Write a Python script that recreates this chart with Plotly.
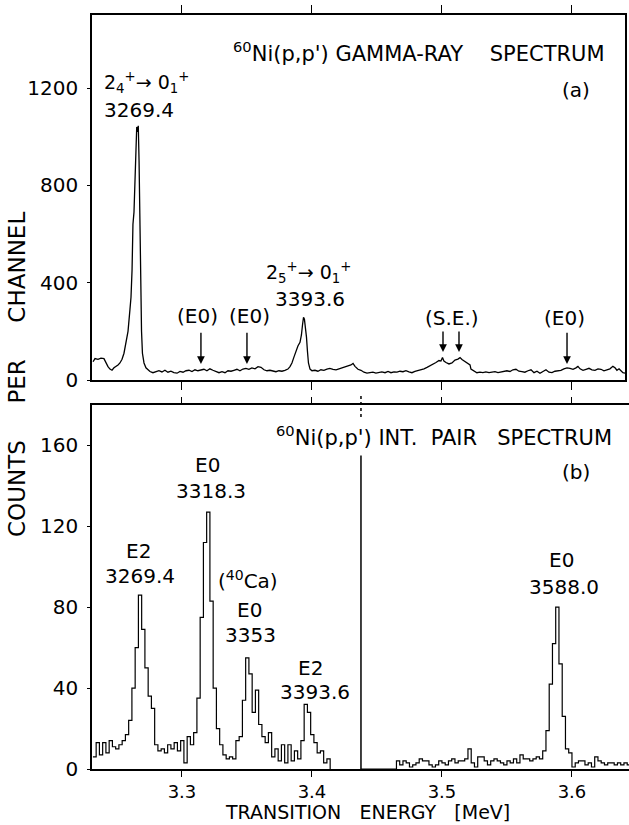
import plotly.graph_objects as go

# ---------------- data ----------------
# (a) gamma-ray spectrum: energy [MeV] and counts per channel
GAMMA_E = [
    3.2316, 3.2331, 3.2354, 3.2377, 3.2400, 3.2416, 3.2431, 3.2446, 3.2462, 3.2477,
    3.2493, 3.2508, 3.2523, 3.2539, 3.2554, 3.2570, 3.2585, 3.2600, 3.2608, 3.2616,
    3.2623, 3.2631, 3.2639, 3.2646, 3.2652, 3.2658, 3.2664, 3.2670, 3.2675, 3.2681,
    3.2689, 3.2696, 3.2708, 3.2723, 3.2739, 3.2754, 3.2777, 3.2800, 3.2823, 3.2846,
    3.2869, 3.2892, 3.2915, 3.2938, 3.2962, 3.2985, 3.3008, 3.3031, 3.3054, 3.3077,
    3.3100, 3.3123, 3.3146, 3.3169, 3.3192, 3.3215, 3.3238, 3.3262, 3.3285, 3.3308,
    3.3331, 3.3354, 3.3377, 3.3400, 3.3423, 3.3446, 3.3469, 3.3492, 3.3515, 3.3538,
    3.3562, 3.3585, 3.3608, 3.3631, 3.3654, 3.3677, 3.3700, 3.3723, 3.3746, 3.3769,
    3.3792, 3.3815, 3.3831, 3.3846, 3.3862, 3.3877, 3.3892, 3.3908, 3.3919, 3.3927,
    3.3935, 3.3942, 3.3950, 3.3958, 3.3965, 3.3973, 3.3985, 3.4000, 3.4023, 3.4046,
    3.4069, 3.4092, 3.4115, 3.4138, 3.4162, 3.4185, 3.4208, 3.4231, 3.4254, 3.4277,
    3.4300, 3.4316, 3.4331, 3.4354, 3.4377, 3.4400, 3.4423, 3.4446, 3.4469, 3.4492,
    3.4515, 3.4538, 3.4562, 3.4585, 3.4608, 3.4631, 3.4654, 3.4677, 3.4700, 3.4723,
    3.4746, 3.4769, 3.4792, 3.4815, 3.4838, 3.4862, 3.4885, 3.4908, 3.4931, 3.4954,
    3.4977, 3.4992, 3.5004, 3.5015, 3.5031, 3.5054, 3.5077, 3.5100, 3.5123, 3.5139,
    3.5154, 3.5177, 3.5200, 3.5216, 3.5223, 3.5246, 3.5269, 3.5292, 3.5315, 3.5338,
    3.5362, 3.5385, 3.5408, 3.5431, 3.5454, 3.5477, 3.5500, 3.5523, 3.5546, 3.5569,
    3.5592, 3.5615, 3.5638, 3.5662, 3.5685, 3.5708, 3.5731, 3.5754, 3.5777, 3.5800,
    3.5823, 3.5846, 3.5869, 3.5892, 3.5915, 3.5938, 3.5962, 3.5985, 3.6008, 3.6031,
    3.6046, 3.6062, 3.6085, 3.6108, 3.6131, 3.6154, 3.6177, 3.6200, 3.6223, 3.6246,
    3.6269, 3.6292, 3.6315, 3.6331, 3.6346, 3.6362, 3.6377, 3.6392, 3.6408,
]
GAMMA_COUNTS = [
    75, 88, 85, 90, 88, 70, 55, 45, 40, 50,
    55, 62, 70, 85, 110, 150, 200, 290, 340, 450,
    640, 690, 860, 960, 1040, 1020, 1045, 900, 680, 420,
    200, 110, 70, 50, 40, 35, 30, 35, 38, 33,
    40, 32, 36, 30, 28, 35, 32, 38, 40, 35,
    42, 38, 40, 44, 38, 46, 40, 36, 30, 34,
    30, 38, 36, 40, 44, 38, 45, 48, 44, 50,
    46, 55, 52, 42, 38, 40, 36, 34, 38, 36,
    40, 45, 55, 70, 95, 120, 140, 155, 185, 225,
    258, 250, 215, 175, 120, 70, 45, 38, 40, 36,
    42, 40, 45, 48, 44, 42, 46, 50, 52, 58,
    62, 68, 56, 44, 40, 32, 28, 30, 32, 28,
    30, 33, 30, 35, 30, 33, 32, 36, 34, 38,
    33, 30, 35, 38, 42, 46, 52, 58, 64, 72,
    80, 78, 92, 78, 72, 66, 70, 82, 86, 92,
    84, 76, 66, 62, 45, 38, 30, 32, 30, 33,
    30, 32, 34, 30, 33, 36, 38, 35, 42, 44,
    36, 34, 32, 38, 42, 30, 36, 28, 34, 42,
    32, 30, 36, 38, 40, 46, 50, 48, 44, 50,
    56, 46, 40, 44, 48, 42, 40, 46, 44, 38,
    42, 46, 56, 50, 40, 46, 38, 30, 28,
]

# (b) internal pair spectrum: two channel blocks (start energy, channel width in MeV)
PAIR_CHANNEL_WIDTH = 0.0025
PAIR_LEFT_START = 3.2315
PAIR_LEFT_COUNTS = [
    6, 13, 7, 13, 8, 14, 11, 10, 12, 14,
    17, 24, 40, 60, 86, 69, 50, 36, 30, 12,
    9, 10, 8, 12, 10, 13, 9, 14, 3, 16,
    12, 18, 35, 75, 112, 127, 83, 40, 20, 12,
    7, 5, 6, 5, 14, 16, 34, 55, 47, 28,
    39, 22, 16, 13, 18, 6, 10, 4, 12, 3,
    12, 4, 9, 5, 14, 32, 28, 17, 13, 8,
    9, 3, 5,
]
PAIR_RIGHT_START = 3.4375
PAIR_RIGHT_COUNTS = [
    0, 0, 0, 0, 0, 0, 0, 0, 0, 0,
    0, 4, 2, 4, 3, 1, 2, 3, 5, 4,
    4, 2, 1, 2, 4, 3, 2, 4, 5, 3,
    4, 4, 5, 10, 3, 1, 6, 6, 4, 2,
    4, 5, 4, 3, 2, 4, 3, 5, 3, 7,
    5, 5, 4, 5, 6, 5, 9, 19, 42, 62,
    80, 52, 26, 10, 8, 1, 3, 4, 4, 2,
    3, 1, 6, 4, 3, 2, 3, 3, 2, 3,
    2, 3, 2,
]
SEPARATOR_E = 3.4377
SEPARATOR_TOP = 155

# marked positions in (a)
E0_ARROWS_E = [3.3146, 3.3500, 3.5962]
SE_ARROWS_E = [3.5008, 3.5131]

X_TICKS = [3.3, 3.4, 3.5, 3.6]
X_TICK_LABELS = ["3.3", "3.4", "3.5", "3.6"]
Y_TICKS_A = [0, 400, 800, 1200]
Y_TICKS_B = [0, 40, 80, 120, 160]

# ---------------- figure ----------------
FONT = "DejaVu Sans"
W, H = 629, 825
ML, MR, MT, MB = 92, 0, 15, 56
PW, PH = W - ML - MR, H - MT - MB
NB = "\u00a0"


def px_x(p):
    return (p - ML) / PW


def px_y(p):
    return (H - MB - p) / PH


def steps(start, counts):
    xs = [start + i * PAIR_CHANNEL_WIDTH for i in range(len(counts))]
    end = start + len(counts) * PAIR_CHANNEL_WIDTH
    return xs + [end, end], list(counts) + [counts[-1], 0]


fig = go.Figure()
fig.add_trace(go.Scatter(x=GAMMA_E, y=GAMMA_COUNTS, mode="lines",
                         line=dict(color="black", width=1.3),
                         xaxis="x", yaxis="y", showlegend=False, hoverinfo="skip"))
for start, counts in [(PAIR_LEFT_START, PAIR_LEFT_COUNTS), (PAIR_RIGHT_START, PAIR_RIGHT_COUNTS)]:
    xs, ys = steps(start, counts)
    fig.add_trace(go.Scatter(x=xs, y=ys, mode="lines", line=dict(color="black", width=1.2, shape="hv"),
                             xaxis="x2", yaxis="y2", showlegend=False, hoverinfo="skip"))

top_dom = [px_y(380), 1.0]
bot_dom = [0.0, px_y(405)]
x_right_top = 625

axis_common = dict(showgrid=False, zeroline=False, showline=True, linecolor="black",
                   linewidth=1.5, tickcolor="black", tickwidth=1.3,
                   tickfont=dict(family=FONT, size=20, color="black"))

x_lo = 3.2308
x_hi_top = x_lo + (x_right_top - ML) / 1300
x_hi_bot = x_lo + PW / 1300

fig.update_layout(
    width=W, height=H, margin=dict(l=ML, r=MR, t=MT, b=MB),
    paper_bgcolor="white", plot_bgcolor="white",
    font=dict(family=FONT, size=20, color="black"),
    xaxis=dict(domain=[0, px_x(x_right_top)], range=[x_lo, x_hi_top], anchor="y",
               tickvals=X_TICKS, showticklabels=False, ticks="outside", ticklen=8,
               mirror="ticks", **axis_common),
    yaxis=dict(domain=top_dom, range=[0, 1500], anchor="x", tickvals=Y_TICKS_A,
               ticks="outside", ticklen=3, mirror=True, ticklabelstandoff=5, **axis_common),
    xaxis2=dict(domain=[0, 1], range=[x_lo, x_hi_bot], anchor="y2",
                tickvals=X_TICKS, ticktext=X_TICK_LABELS, ticks="outside", ticklen=6,
                mirror="ticks", ticklabelstandoff=0,
                **{**axis_common, "tickfont": dict(family=FONT, size=18, color="black")}),
    yaxis2=dict(domain=bot_dom, range=[0, 180], anchor="x2", tickvals=Y_TICKS_B,
                ticks="outside", ticklen=3, mirror=False, ticklabelstandoff=5, **axis_common),
)

# separator in (b)
fig.add_shape(type="line", xref="x2", yref="y2", x0=SEPARATOR_E, x1=SEPARATOR_E,
              y0=0, y1=SEPARATOR_TOP, line=dict(color="black", width=1.5))
fig.add_shape(type="line", xref="x2", yref="paper", x0=SEPARATOR_E, x1=SEPARATOR_E,
              y0=px_y(417), y1=px_y(394), line=dict(color="black", width=1.5, dash="dot"))

ann = []


def label(text, x, y, ax="x", ay="y", xanchor="center", size=20):
    ann.append(dict(text=text, x=x, y=y, xref=ax, yref=ay, xanchor=xanchor, yanchor="middle",
                    showarrow=False, borderpad=0,
                    font=dict(family=FONT, size=size, color="black")))


# panel (a)
label("<sup>60</sup>Ni(p,p')" + NB + "GAMMA-RAY" + NB * 4 + "SPECTRUM", 3.3385, 1348, xanchor="left", size=21)
label("(a)", 3.6031, 1192)
label("2<sub>4</sub><sup>+</sup>\u2192 0<sub>1</sub><sup>+</sup>", 3.2731, 1222, size=19)
label("3269.4", 3.2670, 1110)
label("2<sub>5</sub><sup>+</sup>\u2192 0<sub>1</sub><sup>+</sup>", 3.3977, 440, size=19)
label("3393.6", 3.3985, 331)
label("(E0)", 3.3123, 263)
label("(E0)", 3.3516, 263)
label("(S.E.)", 3.5077, 255)
label("(E0)", 3.5946, 255)

for e in E0_ARROWS_E:
    ann.append(dict(x=e, y=66, ax=e, ay=200, xref="x", yref="y", axref="x", ayref="y",
                    text="", showarrow=True, arrowhead=2, arrowsize=1.1, arrowwidth=1.4,
                    arrowcolor="black"))
for e in SE_ARROWS_E:
    ann.append(dict(x=e, y=115, ax=e, ay=205, xref="x", yref="y", axref="x", ayref="y",
                    text="", showarrow=True, arrowhead=2, arrowsize=1.1, arrowwidth=1.4,
                    arrowcolor="black"))

# panel (b)
label("<sup>60</sup>Ni(p,p')" + NB + "INT." + NB * 2 + "PAIR" + NB * 3 + "SPECTRUM",
      3.3715, 164.7, "x2", "y2", xanchor="left", size=21)
label("(b)", 3.6031, 146.9, "x2", "y2")
label("E0", 3.3193, 150.3, "x2", "y2")
label("3318.3", 3.3223, 137.5, "x2", "y2")
label("E2", 3.2662, 107.8, "x2", "y2")
label("3269.4", 3.2677, 95.4, "x2", "y2")
label("(<sup>40</sup>Ca)", 3.3508, 93.5, "x2", "y2")
label("E0", 3.3516, 78.6, "x2", "y2")
label("3353", 3.3531, 66.3, "x2", "y2")
label("E2", 3.3992, 49.9, "x2", "y2")
label("3393.6", 3.4023, 38.1, "x2", "y2")
label("E0", 3.5923, 103.4, "x2", "y2")
label("3588.0", 3.5939, 90.0, "x2", "y2")

# axis titles
ann.append(dict(text="COUNTS" + NB * 5 + "PER" + NB * 5 + "CHANNEL", x=px_x(17), y=px_y(375),
                xref="paper", yref="paper", textangle=-90, showarrow=False, borderpad=0,
                xanchor="center", yanchor="middle", font=dict(family=FONT, size=23, color="black")))
ann.append(dict(text="TRANSITION" + NB * 3 + "ENERGY" + NB * 3 + "[MeV]", x=px_x(367), y=px_y(824),
                xref="paper", yref="paper", showarrow=False, borderpad=0,
                xanchor="center", yanchor="bottom", font=dict(family=FONT, size=19, color="black")))

fig.update_layout(annotations=ann)
fig.write_html("out.html")
